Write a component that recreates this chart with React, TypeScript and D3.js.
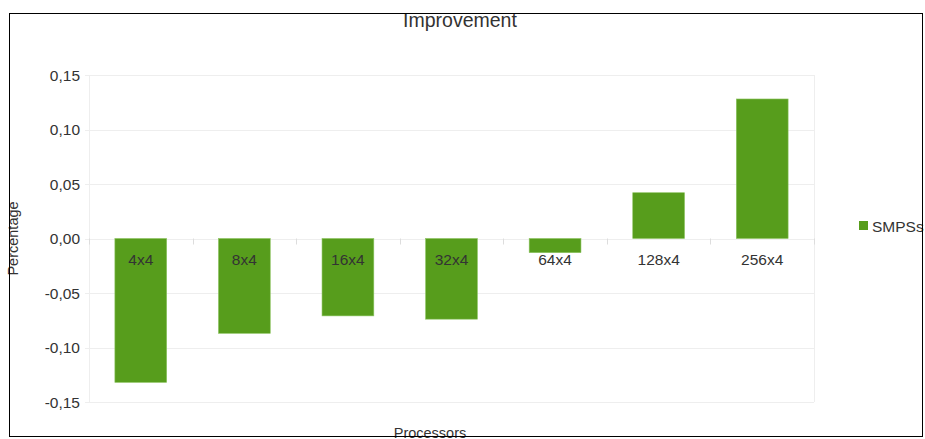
import React from "react";
import * as d3 from "d3";

const categories = ["4x4", "8x4", "16x4", "32x4", "64x4", "128x4", "256x4"];
const smpssValues = [-0.132, -0.087, -0.071, -0.074, -0.013, 0.042, 0.128];
const yTicks = [-0.15, -0.1, -0.05, 0, 0.05, 0.1, 0.15];
const seriesName = "SMPSs";

export default function App() {
  const W = 925, H = 439;
  const left = 89, right = 814, top = 75, bottom = 402;
  const x = d3.scaleBand<string>().domain(categories).range([left, right]).paddingInner(0).paddingOuter(0);
  const y = d3.scaleLinear().domain([-0.15, 0.15]).range([bottom, top]);
  const bw = x.bandwidth() * 0.5;
  const font = "'Liberation Sans', Arial, sans-serif";
  const fmt = (v: number) => d3.format(".2f")(v).replace("−", "-").replace(".", ",");
  return (
    <svg width={W} height={H} style={{ position: "absolute", left: 0, top: 0 }} fontFamily={font}>
      <rect x={0} y={0} width={W} height={H} fill="#fff" />
      <text x={460} y={27} textAnchor="middle" fontSize={19.5} fill="#333" >Improvement</text>
      {yTicks.map((t) => (
        <g key={t}>
          <line x1={left - 4} x2={right} y1={Math.round(y(t)) + 0.5} y2={Math.round(y(t)) + 0.5} stroke="#eeeeee" />
          <text x={80} y={y(t) + 5.5} textAnchor="end" fontSize={15.5} fill="#333">{fmt(t)}</text>
        </g>
      ))}
      <line x1={left + 0.5} x2={left + 0.5} y1={top} y2={bottom} stroke="#eeeeee" />
      <line x1={right + 0.5} x2={right + 0.5} y1={top} y2={bottom} stroke="#eeeeee" />
      {categories.map((c) => (
        <line key={"tk" + c} x1={Math.round(x(c)!) + 0.5} x2={Math.round(x(c)!) + 0.5} y1={y(0)} y2={y(0) + 6} stroke="#dddddd" />
      ))}
      <line x1={right + 0.5} x2={right + 0.5} y1={y(0)} y2={y(0) + 6} stroke="#dddddd" />
      {categories.map((c, i) => {
        const v = smpssValues[i];
        const cx = x(c)! + x.bandwidth() / 2;
        return (
          <rect key={c} x={cx - bw / 2} y={Math.min(y(v), y(0))} width={bw} height={Math.abs(y(v) - y(0))} fill="#579d1c" stroke="#8cc460" strokeWidth={0.6} />
        );
      })}
      {categories.map((c) => (
        <text key={"l" + c} x={x(c)! + x.bandwidth() / 2} y={264.5} textAnchor="middle" fontSize={15.5} fill="#333">{c}</text>
      ))}
      <text transform={`translate(18,${y(0)}) rotate(-90)`} textAnchor="middle" fontSize={14.5} fill="#333">Percentage</text>
      <text x={430} y={438} textAnchor="middle" fontSize={14.5} fill="#333">Processors</text>
      <rect x={859} y={221} width={9} height={9} fill="#579d1c" />
      <text x={872} y={231.5} fontSize={15.5} fill="#333">{seriesName}</text>
      <rect x={9.5} y={13.5} width={913} height={423} fill="none" stroke="#000" strokeWidth={1} />
    </svg>
  );
}
